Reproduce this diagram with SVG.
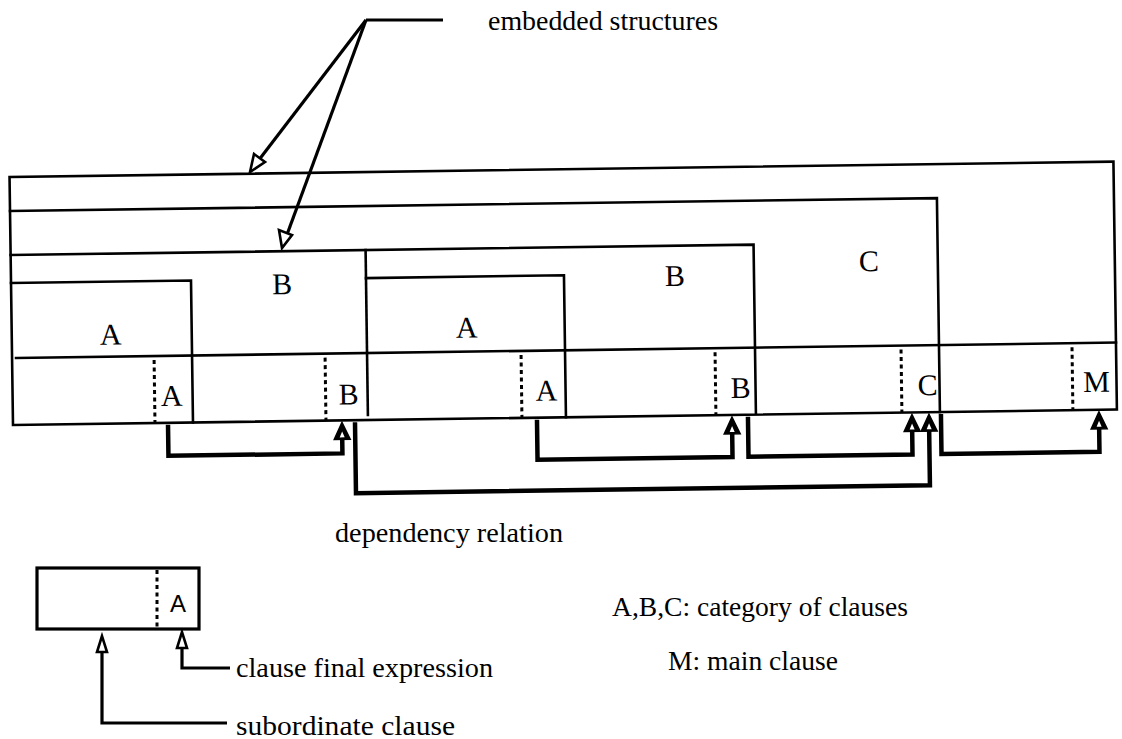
<svg xmlns="http://www.w3.org/2000/svg" width="1122" height="739" viewBox="0 0 1122 739">
<style>
.ln{fill:none;stroke:#000;stroke-width:2.6;stroke-linecap:square}
.lg{fill:none;stroke:#000;stroke-width:3.2}
.dot{fill:none;stroke:#000;stroke-width:3;stroke-dasharray:4 3.5}
.dep{fill:none;stroke:#000;stroke-width:4.5;stroke-linejoin:miter}
.ah{fill:#000;stroke:#000;stroke-width:1.5;stroke-linejoin:miter}
.ahi{fill:#fff}
.oh{fill:#fff;stroke:#000;stroke-width:2.6}
.t{font-family:"Liberation Serif","Times New Roman",serif;fill:#000}
.big{font-size:30px}
.lab{font-size:30px}
.txt{font-size:28px}
.sans{font-family:"Liberation Sans",Arial,sans-serif;font-size:24px;fill:#000}
</style>
<defs>
<g id="head">
<polygon class="ah" points="0,0 -8,17 8,17"/>
<polygon class="ahi" points="0,9 -2.5,15 2.5,15"/>
</g>
</defs>
<rect width="1122" height="739" fill="#fff"/>
<g id="embedded-label">
<line class="lg" x1="366" y1="20" x2="443" y2="20"/>
<line class="lg" x1="366" y1="20" x2="255" y2="165"/>
<polygon class="oh" points="250,172 254,154 265,162"/>
<line class="lg" x1="366" y1="20" x2="285" y2="240"/>
<polygon class="oh" points="282,248 279,230 292,235"/>
<text class="t txt" x="488" y="30" textLength="230" lengthAdjust="spacingAndGlyphs">embedded structures</text>
</g>
<g id="structure" transform="rotate(-0.8 13 425)">
<g id="outer">
<rect class="ln" x="13" y="177" width="1104" height="248"/>
<line class="ln" x1="17" y1="358" x2="1117" y2="358"/>
</g>
<g id="C-box">
<polyline class="ln" points="13,211 940,211 940,425"/>
<text class="t big" x="871" y="283" text-anchor="middle">C</text>
</g>
<g id="B-box-1">
<polyline class="ln" points="13,255 756,255 756,423"/>
<line class="ln" x1="368" y1="255" x2="368" y2="420"/>
<text class="t big" x="284" y="298" text-anchor="middle">B</text>
<text class="t big" x="677" y="295" text-anchor="middle">B</text>
</g>
<g id="A-box-1">
<polyline class="ln" points="13,283 193,283 193,425"/>
<text class="t big" x="112" y="346" text-anchor="middle">A</text>
</g>
<g id="A-box-2">
<polyline class="ln" points="368,283 566,283 566,425"/>
<text class="t big" x="468" y="344" text-anchor="middle">A</text>
</g>
<g id="final-expressions">
<line class="dot" x1="155" y1="362" x2="155" y2="425"/>
<line class="dot" x1="326" y1="362" x2="326" y2="425"/>
<line class="dot" x1="522" y1="362" x2="522" y2="425"/>
<line class="dot" x1="716" y1="362" x2="716" y2="425"/>
<line class="dot" x1="902" y1="362" x2="902" y2="425"/>
<line class="dot" x1="1073" y1="362" x2="1073" y2="425"/>
<text class="t lab" x="172" y="408" text-anchor="middle">A</text>
<text class="t lab" x="349" y="409" text-anchor="middle">B</text>
<text class="t lab" x="547" y="408" text-anchor="middle">A</text>
<text class="t lab" x="741" y="408" text-anchor="middle">B</text>
<text class="t lab" x="928" y="408" text-anchor="middle">C</text>
<text class="t lab" x="1097" y="407" text-anchor="middle">M</text>
</g>
<g id="connectors">
<polyline class="dep" points="168,427 168,458 342,458 342,442"/>
<use href="#head" x="342" y="427"/>
<polyline class="dep" points="355,427 355,498 929,498 929,442"/>
<use href="#head" x="929" y="427"/>
<polyline class="dep" points="537,427 537,467 732,467 732,442"/>
<use href="#head" x="732" y="427"/>
<polyline class="dep" points="748,427 748,467 912,467 912,442"/>
<use href="#head" x="912" y="427"/>
<polyline class="dep" points="941,427 941,467 1099,467 1099,442"/>
<use href="#head" x="1099" y="427"/>
</g>
</g>
<text class="t txt" x="335" y="542" textLength="228" lengthAdjust="spacingAndGlyphs">dependency relation</text>
<g id="legend-box">
<rect class="lg" x="37" y="568" width="162" height="61"/>
<line class="dot" x1="157" y1="570" x2="157" y2="629"/>
<text class="sans" x="178" y="612" text-anchor="middle">A</text>
</g>
<g id="legend-arrows">
<polyline class="lg" points="182,648 182,668 230,668"/>
<polygon class="oh" points="182,632 177,648 187,648"/>
<polyline class="lg" points="102,652 102,723 227,723"/>
<polygon class="oh" points="102,636 97,652 107,652"/>
<text class="t txt" x="236" y="677" textLength="257" lengthAdjust="spacingAndGlyphs">clause final expression</text>
<text class="t txt" x="236" y="735" textLength="219" lengthAdjust="spacingAndGlyphs">subordinate clause</text>
</g>
<text class="t txt" x="612" y="616" textLength="296" lengthAdjust="spacingAndGlyphs">A,B,C: category of clauses</text>
<text class="t txt" x="668" y="670" textLength="170" lengthAdjust="spacingAndGlyphs">M: main clause</text>
</svg>
